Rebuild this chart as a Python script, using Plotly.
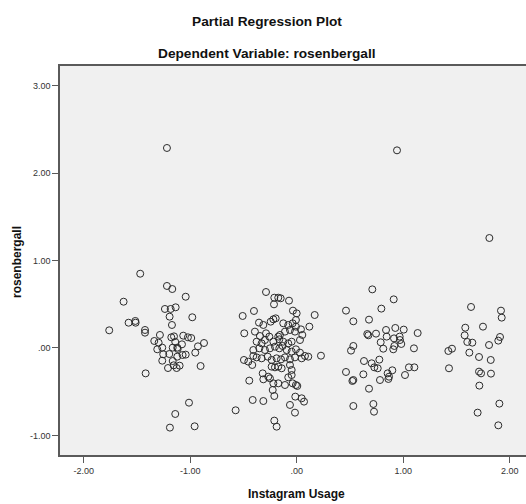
import plotly.graph_objects as go

# Instagram Usage (partial residual, x) and rosenbergall (partial residual, y)
left_x = [-1.218, -1.469, -1.218, -1.168, -1.042, -1.625, -1.237, -1.183, -1.136, -1.193, -0.980,
          -1.578, -1.515, -1.512, -1.171, -1.760, -1.424, -1.424, -1.284, -1.337, -1.296, -1.309,
          -1.262, -1.177, -1.152, -1.065, -1.021, -0.990, -1.140, -1.077, -1.121, -1.164, -1.117,
          -0.927, -0.870, -0.952, -1.253, -1.196, -1.121, -1.071, -1.042, -1.262, -1.164, -1.208,
          -1.155, -1.127, -1.099, -0.902, -1.418, -1.011, -1.140, -1.190, -0.958]
left_y = [2.286, 0.849, 0.709, 0.674, 0.586, 0.529, 0.446, 0.446, 0.465, 0.358, 0.351,
          0.289, 0.309, 0.289, 0.263, 0.202, 0.206, 0.175, 0.149, 0.080, 0.061, -0.015,
          0.004, 0.122, 0.133, 0.141, 0.122, 0.114, 0.069, 0.042, 0.004, 0.004, -0.011,
          0.019, 0.057, -0.053, -0.072, -0.069, -0.099, -0.080, -0.076, -0.145, -0.149, -0.229,
          -0.198, -0.229, -0.202, -0.206, -0.290, -0.625, -0.754, -0.910, -0.895]

center_x = [-0.288, -0.210, -0.173, -0.150, -0.213, -0.072, -0.507, -0.401, -0.035, 0.000, 0.169,
            -0.354, -0.313, -0.244, -0.219, -0.197, -0.126, -0.079, -0.038, -0.007, -0.007,
            -0.492, -0.392, -0.345, -0.288, -0.257, -0.173, -0.157, -0.110, -0.063, -0.016,
            0.040, 0.119, 0.053, -0.376, -0.329, -0.298, -0.219, -0.163, -0.126, -0.079, -0.047,
            0.031, -0.407, -0.351, -0.298, -0.251, -0.204, -0.163, -0.132, -0.094, -0.047,
            -0.007, 0.031, 0.078, 0.109, 0.228, -0.495, -0.454, -0.417, -0.376, -0.329, -0.272,
            -0.235, -0.188, -0.147, -0.110, -0.063, -0.016, 0.047, -0.407, -0.235, -0.204,
            -0.173, -0.141, -0.063, -0.047, -0.445, -0.319, -0.313, -0.267, -0.251, -0.219,
            -0.173, -0.110, -0.079, -0.047, -0.038, -0.007, 0.006, -0.225, -0.210, -0.413,
            -0.313, -0.573, -0.063, -0.013, 0.047, 0.069, -0.016, -0.210, -0.188]
center_y = [0.640, 0.575, 0.575, 0.568, 0.499, 0.541, 0.366, 0.423, 0.427, 0.396, 0.377,
            0.290, 0.263, 0.301, 0.328, 0.339, 0.282, 0.263, 0.282, 0.320, 0.244,
            0.168, 0.187, 0.137, 0.168, 0.130, 0.130, 0.149, 0.187, 0.206, 0.187,
            0.213, 0.244, 0.149, 0.072, 0.053, 0.091, 0.072, 0.099, 0.072, 0.053, 0.072,
            0.091, -0.023, -0.004, -0.023, -0.004, 0.015, -0.004, 0.023, -0.023, -0.042,
            -0.015, -0.053, -0.091, -0.099, -0.088, -0.137, -0.156, -0.194, -0.107, -0.118, -0.099,
            -0.137, -0.118, -0.130, -0.107, -0.130, -0.107, -0.118, -0.091, -0.213, -0.221,
            -0.213, -0.232, -0.194, -0.251, -0.373, -0.290, -0.358, -0.328, -0.347, -0.404,
            -0.404, -0.423, -0.335, -0.309, -0.404, -0.423, -0.434, -0.480, -0.549, -0.594,
            -0.606, -0.712, -0.651, -0.556, -0.575, -0.613, -0.739, -0.830, -0.899]

right1_x = [0.942, 0.710, 0.911, 0.463, 0.795, 0.532, 0.679, 0.663, 0.673, 0.745, 0.839, 0.926,
            1.005, 1.136, 0.845, 0.914, 0.967, 0.970, 0.789, 0.532, 0.510, 0.813, 0.907, 0.917,
            0.982, 1.101, 0.632, 0.704, 0.776, 0.729, 0.761, 0.463, 0.626, 0.532, 0.523, 0.782,
            0.854, 0.867, 0.861, 0.898, 1.017, 1.054, 1.105, 0.679, 0.532, 0.720, 0.726]
right1_y = [2.259, 0.670, 0.556, 0.427, 0.450, 0.305, 0.324, 0.160, 0.145, 0.164, 0.206, 0.229,
            0.210, 0.171, 0.130, 0.110, 0.130, 0.091, 0.065, 0.023, -0.030, -0.008, -0.015, 0.023,
            0.046, -0.004, -0.149, -0.175, -0.133, -0.221, -0.232, -0.274, -0.301, -0.366, -0.377,
            -0.366, -0.290, -0.328, -0.354, -0.255, -0.309, -0.221, -0.221, -0.465, -0.663, -0.640,
            -0.728]

right2_x = [1.809, 1.637, 1.918, 1.925, 1.749, 1.583, 1.577, 1.602, 1.649, 1.909, 1.893, 1.806,
            1.424, 1.458, 1.621, 1.712, 1.822, 1.430, 1.712, 1.731, 1.824, 1.715, 1.903, 1.699,
            1.893]
right2_y = [1.257, 0.469, 0.427, 0.347, 0.244, 0.232, 0.145, 0.069, 0.061, 0.126, 0.084, 0.034,
            -0.034, -0.008, -0.053, -0.103, -0.137, -0.232, -0.270, -0.290, -0.293, -0.430, -0.636,
            -0.739, -0.884]

x_vals = left_x + center_x + right1_x + right2_x
y_vals = left_y + center_y + right1_y + right2_y

x_ticks = [-2, -1, 0, 1, 2]
x_tick_labels = ["-2.00", "-1.00", ".00", "1.00", "2.00"]
y_ticks = [3, 2, 1, 0, -1]
y_tick_labels = ["3.00", "2.00", "1.00", ".00", "-1.00"]

FONT = "Liberation Sans, Arial, sans-serif"
W, H = 526, 504
L, R, T, B = 60, 0, 66, 49
pw, ph = W - L - R, H - T - B

def px(x):
    return (x - L) / pw

def py(y):
    return (H - B - y) / ph

fig = go.Figure()
fig.add_trace(go.Scatter(
    x=x_vals, y=y_vals, mode="markers",
    marker=dict(symbol="circle-open", size=7, color="#2b2b2b", line=dict(width=1, color="#2b2b2b")),
    showlegend=False, hoverinfo="skip",
))

fig.update_layout(
    width=W, height=H,
    margin=dict(l=L, r=R, t=T, b=B),
    paper_bgcolor="white",
    plot_bgcolor="#f0f0f0",
    font=dict(family=FONT, color="#333333"),
    xaxis=dict(range=[-2.222, 2.153], tickvals=x_ticks, ticktext=x_tick_labels,
               showgrid=False, zeroline=False, showline=True, mirror=True,
               linecolor="#5a5a5a", linewidth=1.5, ticks="outside", ticklen=6,
               tickcolor="#5a5a5a", tickfont=dict(size=9, color="#333333", family=FONT)),
    yaxis=dict(range=[-1.223, 3.223], tickvals=y_ticks, ticktext=y_tick_labels,
               showgrid=False, zeroline=False, showline=True, mirror=False,
               linecolor="#5a5a5a", linewidth=1.5, ticks="outside", ticklen=6,
               tickcolor="#5a5a5a", tickfont=dict(size=9, color="#333333", family=FONT)),
    annotations=[
        dict(text="<b>Partial Regression Plot</b>", xref="paper", yref="paper",
             x=px(267), y=py(21), xanchor="center", yanchor="middle", showarrow=False,
             font=dict(size=13.7, color="#111111", family=FONT)),
        dict(text="<b>Dependent Variable: rosenbergall</b>", xref="paper", yref="paper",
             x=px(267), y=py(54), xanchor="center", yanchor="middle", showarrow=False,
             font=dict(size=13.7, color="#111111", family=FONT)),
        dict(text="<b>Instagram Usage</b>", xref="paper", yref="paper",
             x=px(296.5), y=py(494), xanchor="center", yanchor="middle", showarrow=False,
             font=dict(size=12, color="#111111", family=FONT)),
        dict(text="<b>rosenbergall</b>", xref="paper", yref="paper", textangle=-90,
             x=px(17), y=py(262), xanchor="center", yanchor="middle", showarrow=False,
             font=dict(size=12, color="#111111", family=FONT)),
    ],
)

fig.write_html("out.html")
